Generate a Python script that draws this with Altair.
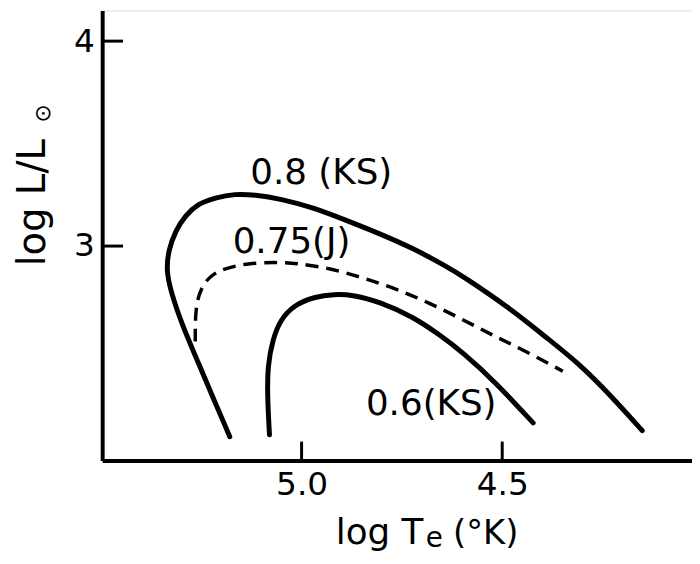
import altair as alt
import pandas as pd

FONT = "DejaVu Sans"

# Curve 0.8 (KS) - solid
c08_x = [5.179, 5.216, 5.258, 5.300, 5.327, 5.337, 5.332, 5.314, 5.290, 5.258, 5.216, 5.166,
         5.117, 5.053, 4.969, 4.887, 4.806, 4.722, 4.640, 4.598, 4.475, 4.393, 4.312, 4.228, 4.151]
c08_y = [2.070, 2.239, 2.433, 2.626, 2.786, 2.882, 2.979, 3.076, 3.149, 3.207, 3.236, 3.255,
         3.250, 3.231, 3.187, 3.124, 3.061, 2.989, 2.902, 2.853, 2.689, 2.558, 2.433, 2.268, 2.099]

# Curve 0.75 (J) - dashed
c075_x = [5.265, 5.265, 5.250, 5.226, 5.191, 5.134, 5.067, 5.011, 4.929, 4.845, 4.764, 4.682,
          4.598, 4.517, 4.435, 4.349]
c075_y = [2.534, 2.703, 2.800, 2.858, 2.892, 2.916, 2.921, 2.916, 2.892, 2.844, 2.791, 2.723,
          2.641, 2.558, 2.481, 2.389]

# Curve 0.6 (KS) - solid
c06_x = [5.080, 5.085, 5.085, 5.072, 5.053, 5.018, 4.969, 4.919, 4.870, 4.806, 4.722, 4.657,
         4.598, 4.517, 4.423]
c06_y = [2.079, 2.254, 2.413, 2.544, 2.641, 2.713, 2.752, 2.766, 2.761, 2.728, 2.655, 2.568,
         2.481, 2.336, 2.137]

label_text = ["0.8 (KS)", "0.75(J)", "0.6(KS)"]
label_x = [4.951, 5.025, 4.677]
label_y = [3.357, 3.018, 2.229]

x_ticks = [5.0, 4.5]
y_ticks = [3, 4]

X_DOMAIN = [4.027, 5.497]
Y_DOMAIN = [1.954, 4.150]

W, H = 595, 454

rows = []
for name, xs, ys in [("0.8", c08_x, c08_y), ("0.75", c075_x, c075_y), ("0.6", c06_x, c06_y)]:
    for i, (a, b) in enumerate(zip(xs, ys)):
        rows.append({"curve": name, "order": i, "logT": a, "logL": b})
df = pd.DataFrame(rows)

xscale = alt.Scale(domain=X_DOMAIN, reverse=True, nice=False, zero=False)
yscale = alt.Scale(domain=Y_DOMAIN, nice=False, zero=False)

xaxis = alt.Axis(values=x_ticks, format=".1f", ticks=False, tickSize=0, grid=False,
                 domainColor="black", domainWidth=4, labelFont=FONT, labelFontSize=33,
                 labelColor="black", labelPadding=8, title=None)
yaxis = alt.Axis(values=y_ticks, format="d", ticks=False, tickSize=0, grid=False,
                 domainColor="black", domainWidth=4, labelFont=FONT, labelFontSize=33,
                 labelColor="black", labelPadding=8, title=None)

base = alt.Chart(df)

solid = base.transform_filter(alt.datum.curve != "0.75").mark_line(
    color="black", strokeWidth=5, interpolate="basis", strokeCap="round"
).encode(
    x=alt.X("logT:Q", scale=xscale, axis=xaxis),
    y=alt.Y("logL:Q", scale=yscale, axis=yaxis),
    detail="curve:N",
    order="order:Q",
)

dashed = base.transform_filter(alt.datum.curve == "0.75").mark_line(
    color="black", strokeWidth=3.5, interpolate="basis", strokeDash=[13, 8]
).encode(
    x=alt.X("logT:Q", scale=xscale),
    y=alt.Y("logL:Q", scale=yscale),
    order="order:Q",
)

ldf = pd.DataFrame({"t": label_text, "x": label_x, "y": label_y})
labels = alt.Chart(ldf).mark_text(font=FONT, fontSize=36, color="black",
                                  align="center", baseline="middle").encode(
    x=alt.X("x:Q", scale=xscale),
    y=alt.Y("y:Q", scale=yscale),
    text="t:N",
)

xt = alt.Chart(pd.DataFrame({"v": x_ticks})).mark_rule(color="black", strokeWidth=3).encode(
    x=alt.X("v:Q", scale=xscale), y=alt.value(H), y2=alt.value(H - 19)
)
yt = alt.Chart(pd.DataFrame({"v": y_ticks})).mark_rule(color="black", strokeWidth=3).encode(
    y=alt.Y("v:Q", scale=yscale), x=alt.value(0), x2=alt.value(21)
)

def txt(s, x, y, size, align="center", baseline="alphabetic", angle=0):
    kw = dict(font=FONT, fontSize=size, color="black", align=align, baseline=baseline)
    if angle:
        kw["angle"] = angle
    return alt.Chart(pd.DataFrame({"t": [s]})).mark_text(**kw).encode(
        text="t:N", x=alt.value(x), y=alt.value(y)
    )

ytitle = txt("log L/L", -58, 194, 39, angle=270)
sun = txt("\u2299", -60, 104, 22, baseline="middle", angle=270)
xt1 = txt("log T", 324, 538, 36, align="right")
xt2 = txt("e", 335, 541, 28)
xt3 = txt("(°K)", 354, 538, 34, align="left")

chart = alt.layer(solid, dashed, labels, xt, yt, ytitle, sun, xt1, xt2, xt3).properties(
    width=W, height=H,
    autosize=alt.AutoSizeParams(type="none"),
    padding={"left": 95, "top": 0, "right": 0, "bottom": 94},
).configure_view(stroke=None).configure(background="white")

chart.save("out.html", embed_options={"renderer": "svg", "actions": False})
